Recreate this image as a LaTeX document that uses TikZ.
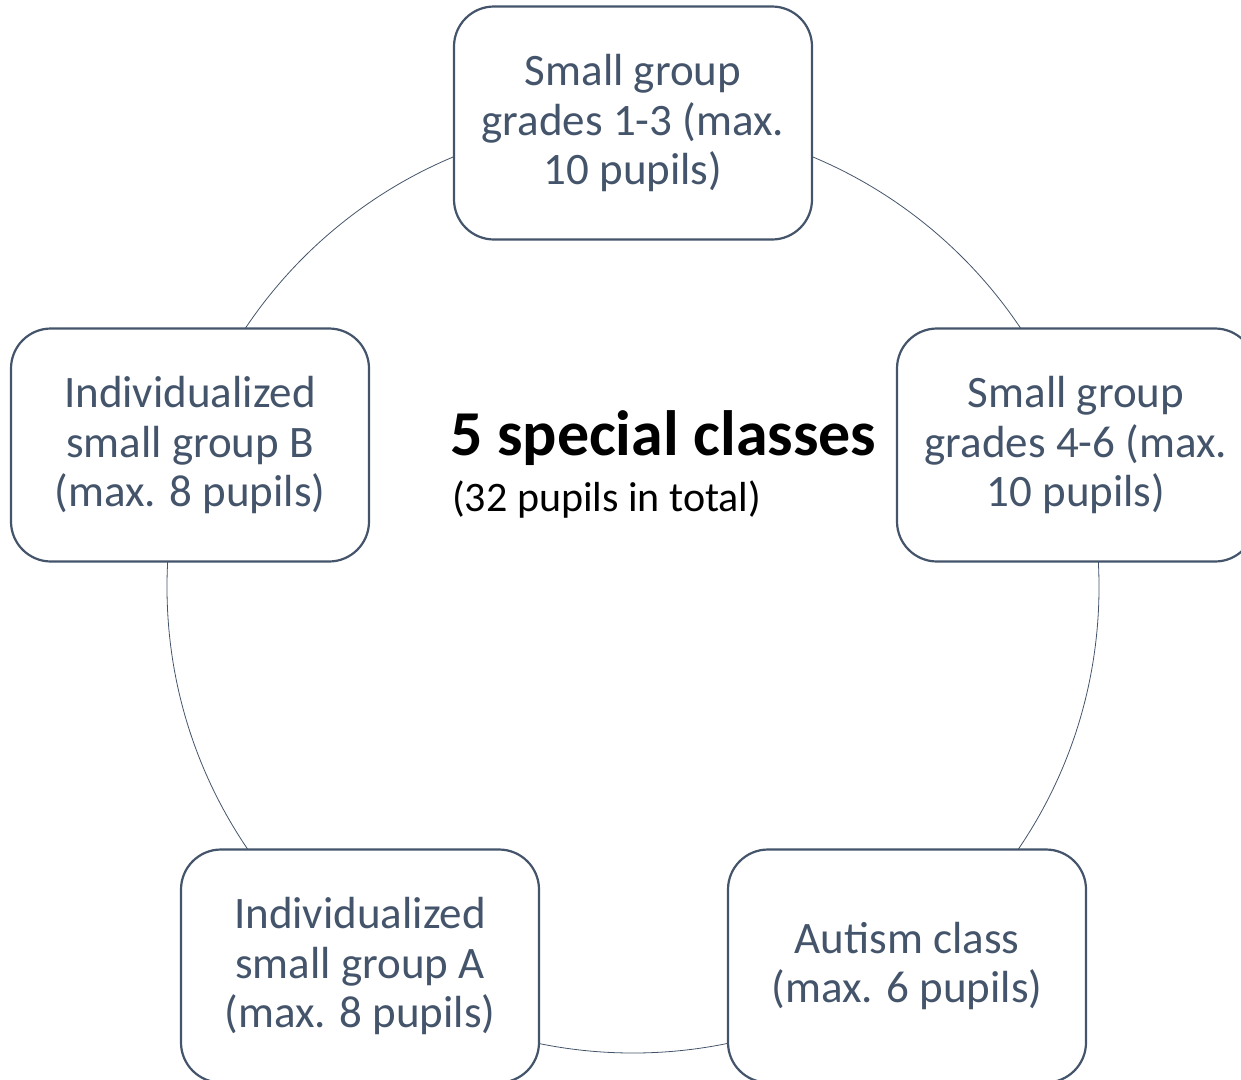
\documentclass[tikz,border=0pt]{standalone}
\usepackage{fontspec}
\setmainfont{Carlito}
\definecolor{slate}{HTML}{44546A}
\begin{document}
\begin{tikzpicture}[x=1pt,y=-1pt,
  classbox/.style={draw=slate, line width=2.2pt, fill=white, rounded corners=40pt,
    minimum width=358pt, minimum height=233pt, inner sep=0pt,
    text=slate, align=center, font=\fontsize{45}{49.5}\selectfont},
  ring/.style={draw=slate, line width=0.8pt}]
\useasboundingbox (0,0) rectangle (1241,1079);
\coordinate (c) at (633,587);
\draw[ring] (c) circle (466pt);
\node[classbox] (top) at (633,123) {Small group\\grades 1-3 (max.\\10 pupils)};
\node[classbox] (right) at (1076,445) {Small group\\grades 4-6 (max.\\10 pupils)};
\node[classbox] (left) at (190,445) {Individualized\\small group B\\(max. 8 pupils)};
\node[classbox] (botleft) at (360,966) {Individualized\\small group A\\(max. 8 pupils)};
\node[classbox] (botright) at (907,966) {Autism class\\(max. 6 pupils)};
\node[anchor=base west, inner sep=0pt, font=\fontsize{64}{70}\selectfont\bfseries] (title) at (450,455) {5 special classes};
\node[anchor=base west, inner sep=0pt, font=\fontsize{42}{48}\selectfont] (sub) at (452,511) {(32 pupils in total)};
\end{tikzpicture}
\end{document}
